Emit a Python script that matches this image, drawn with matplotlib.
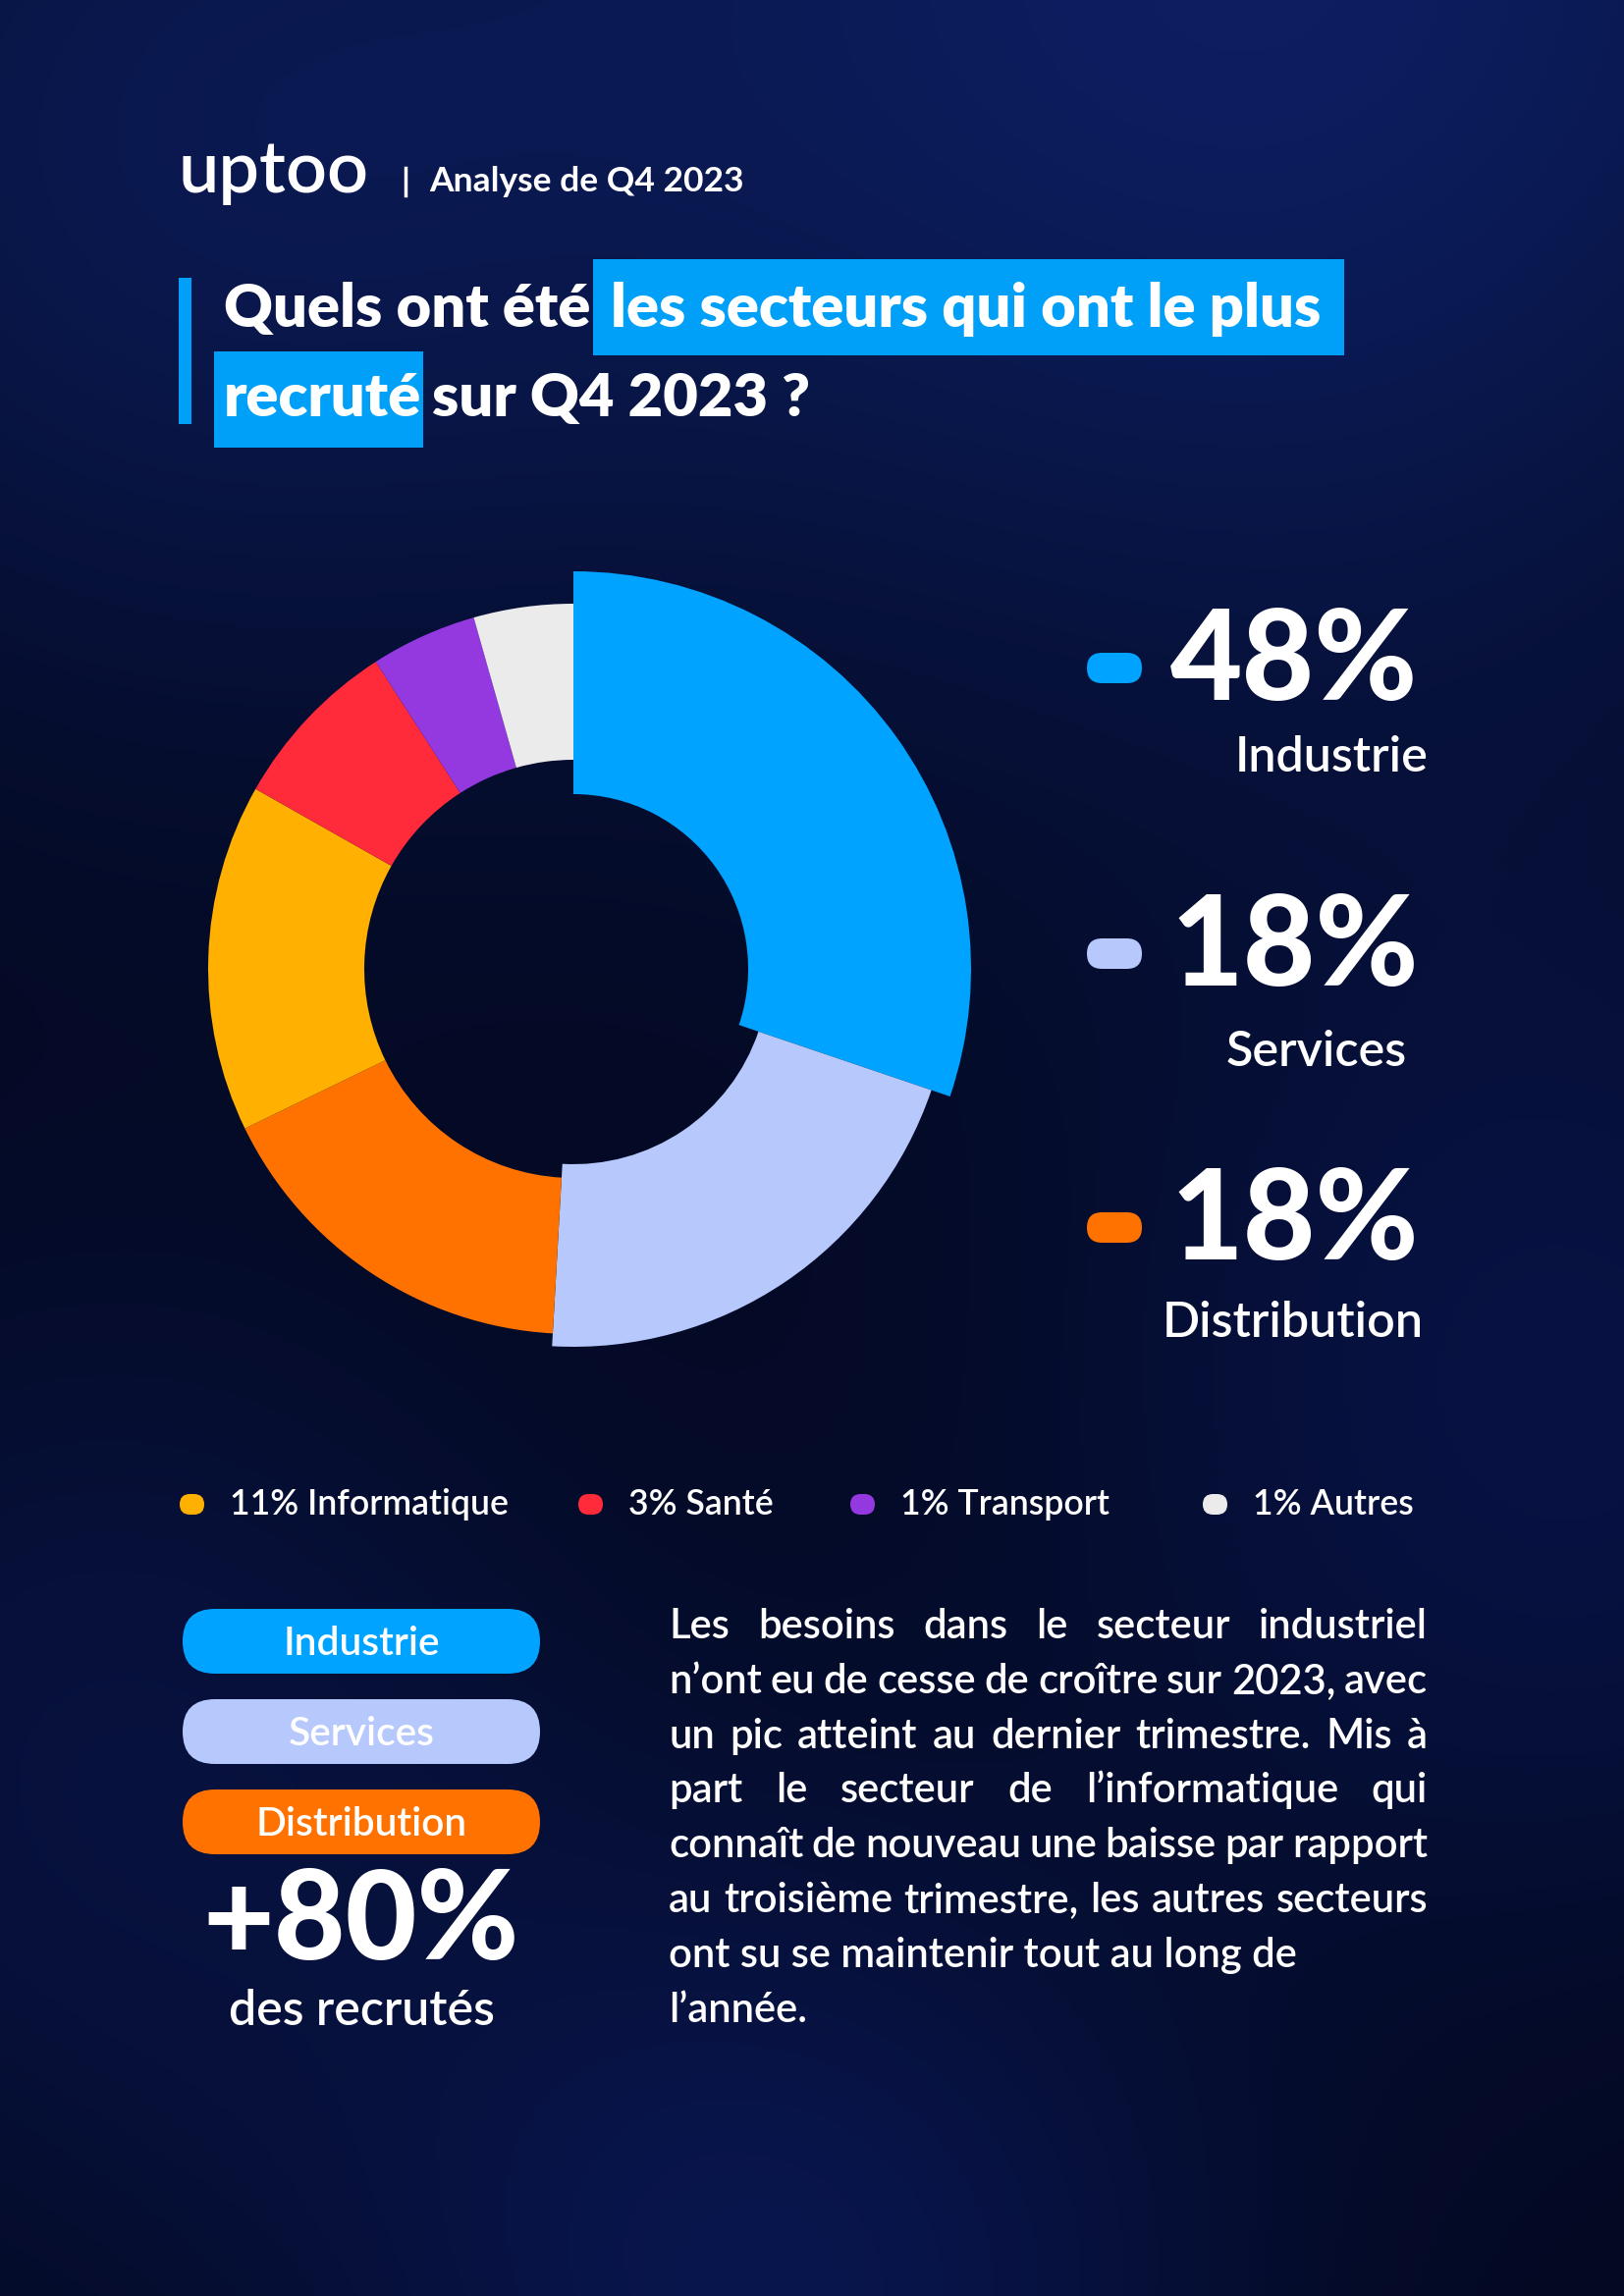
import matplotlib.pyplot as plt
import numpy as np
from matplotlib.patches import FancyBboxPatch, Rectangle

W, H = 1654, 2339

# data
secteurs = ['Industrie', 'Services', 'Distribution', 'Informatique', 'Santé', 'Transport', 'Autres']
pourcentages = [48, 18, 18, 11, 3, 1, 1]
# share of the ring each slice takes, as drawn in the infographic (degrees / 3.6)
parts_anneau = [30.2, 20.7, 16.9, 15.4, 7.7, 4.7, 4.4]
couleurs = ['#00a3ff', '#b7c8fc', '#ff7200', '#ffb000', '#ff2a3a', '#9438e0', '#ebebeb']
part_top3 = 80  # "+80% des recrutés" as printed

titre_1 = ['Quels ont été', 'les secteurs qui ont le plus']
titre_2 = ['recruté', 'sur Q4 2023 ?']
sous_titre = 'Analyse de Q4 2023'
paragraphe = [
    'Les besoins dans le secteur industriel',
    'n’ont eu de cesse de croître sur 2023, avec',
    'un pic atteint au dernier trimestre. Mis à',
    'part le secteur de l’informatique qui',
    'connaît de nouveau une baisse par rapport',
    'au troisième trimestre, les autres secteurs',
    'ont su se maintenir tout au long de',
    'l’année.',
]

FONT = 'Lato'
BLEU = '#00a0f8'

fig = plt.figure(figsize=(W / 100, H / 100), dpi=100)
ax = fig.add_axes([0, 0, 1, 1])
ax.set_xlim(0, W)
ax.set_ylim(H, 0)
ax.axis('off')

# background: dark navy with soft blue glows
yy, xx = np.mgrid[0:H:4, 0:W:4].astype(float)
img = np.zeros(xx.shape + (3,))
img[:] = np.array([3, 8, 30]) / 255
def glow(cx, cy, r, col):
    d = np.exp(-((xx - cx) ** 2 + (yy - cy) ** 2) / (2 * r ** 2))
    return d[..., None] * np.array(col) / 255
img += glow(1300, -50, 550, [9, 22, 66])
img += glow(150, 150, 420, [6, 14, 42])
img += glow(1600, 1450, 380, [4, 10, 36])
img += glow(800, 2350, 330, [5, 13, 45])
img += glow(100, 1800, 380, [4, 9, 30])
ax.imshow(np.clip(img, 0, 1), extent=(0, W, H, 0), zorder=0, aspect='auto')

r = fig.canvas.get_renderer()

def txt(x, y, s, size, weight='bold', ha='left', color='white', va='baseline'):
    return ax.text(x, y, s, fontsize=size, fontweight=weight, ha=ha, va=va,
                   color=color, family=FONT, zorder=5)

def largeur(t):
    return t.get_window_extent(renderer=r).width

def ajuste(t, cible):
    t.set_fontsize(t.get_fontsize() * cible / largeur(t))
    return t.get_fontsize()

def pilule(x, y, w, h, col, z=3):
    ax.add_patch(FancyBboxPatch((x, y), w, h, boxstyle=f'round,pad=0,rounding_size={h / 2}',
                                fc=col, ec='none', zorder=z))

# header
logo = txt(182, 196, 'uptoo', 40, weight='semibold')
ajuste(logo, 194)
ax.plot([413, 413], [171, 199], color='white', lw=2.5, zorder=5)
t = txt(437, 195, sous_titre, 22, weight='bold')
ajuste(t, 319)

# title
ax.add_patch(Rectangle((182, 283), 13, 149, fc=BLEU, ec='none', zorder=3))
ax.add_patch(Rectangle((604, 264), 765, 98, fc=BLEU, ec='none', zorder=3))
ax.add_patch(Rectangle((218, 358), 213, 98, fc=BLEU, ec='none', zorder=3))
t = txt(622, 333, titre_1[1], 40, weight='heavy')
taille = ajuste(t, 723)
txt(228, 333, titre_1[0], taille, weight='heavy')
txt(228, 424, titre_2[0], taille, weight='heavy')
txt(440, 424, titre_2[1], taille, weight='heavy')

# donut
cx, cy, demi = 584, 987, 420
dax = fig.add_axes([(cx - demi) / W, (H - cy - demi) / H, 2 * demi / W, 2 * demi / H])
wedges, _ = dax.pie(parts_anneau, colors=couleurs, startangle=90, counterclock=False,
                    radius=372, wedgeprops=dict(width=159, linewidth=0))
anneaux = [(178, 405), (199, 385)] + [(213, 372)] * 5
for w, (ri, ro) in zip(wedges, anneaux):
    w.set_radius(ro)
    w.set_width(ro - ri)
dax.set_xlim(-demi, demi)
dax.set_ylim(-demi, demi)
dax.set_aspect('equal')
dax.axis('off')

# top three figures on the right
ys_num = [713, 1004, 1283]
ys_lab = [786, 1086, 1362]
cx_lab = [1356, 1341, 1317]
t = txt(0, 0, secteurs[0], 33, weight='semibold')
taille_lab = ajuste(t, 197)
t.remove()
for i in range(3):
    pilule(1107, ys_num[i] - 48, 56, 31, couleurs[i])
    t = txt(1192, ys_num[i], f'{pourcentages[i]}%', 80, weight='black')
    ajuste(t, 252)
    txt(cx_lab[i], ys_lab[i], secteurs[i], taille_lab, weight='semibold', ha='center')

# small legend row
xs_dot = [183, 589, 866, 1225]
t = txt(0, 0, f'{pourcentages[3]}% {secteurs[3]}', 22.5, weight='semibold')
taille_leg = ajuste(t, 283)
t.remove()
for i, xd in zip(range(3, 7), xs_dot):
    pilule(xd, 1522, 25, 21, couleurs[i])
    txt(xd + 51, 1543, f'{pourcentages[i]}% {secteurs[i]}', taille_leg, weight='semibold')

# bottom left block
ys_pill = [1639, 1731, 1823]
t = txt(0, 0, secteurs[2], 25, weight='semibold')
taille_pil = ajuste(t, 215)
t.remove()
for i in range(3):
    pilule(186, ys_pill[i], 364, 66, couleurs[i])
    txt(368, ys_pill[i] + 47, secteurs[i], taille_pil, weight='semibold', ha='center')
t = txt(368, 1996, f'+{part_top3}%', 80, weight='black', ha='center')
ajuste(t, 322)
t = txt(368, 2063, 'des recrutés', 33, weight='semibold', ha='center')
ajuste(t, 271)

# justified paragraph
x0, x1 = 681, 1454
y0, pas = 1669, 55.8
t = txt(0, 0, paragraphe[6], 25, weight='semibold')
taille_par = ajuste(t, 640)
t.remove()
for k, ligne in enumerate(paragraphe):
    y = y0 + k * pas
    if k >= len(paragraphe) - 2:
        txt(x0, y, ligne, taille_par, weight='semibold')
        continue
    mots = [txt(0, y, m, taille_par, weight='semibold') for m in ligne.split(' ')]
    ws = [largeur(m) for m in mots]
    gap = (x1 - x0 - sum(ws)) / (len(mots) - 1)
    x = x0
    for m, wd in zip(mots, ws):
        m.set_x(x)
        x += wd + gap

fig.savefig('out.png', dpi=100)
